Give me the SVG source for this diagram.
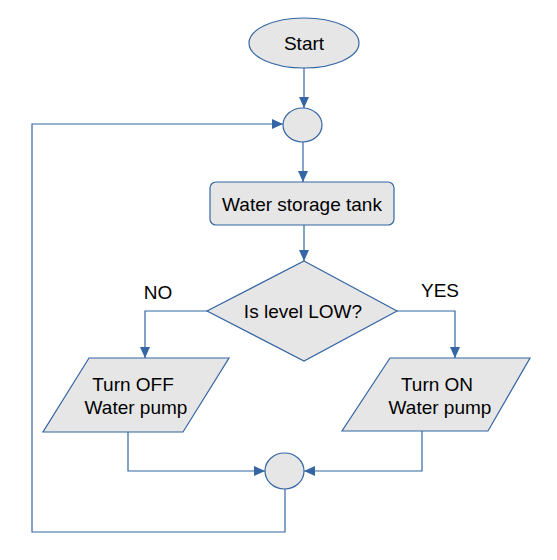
<svg xmlns="http://www.w3.org/2000/svg" width="557" height="560" viewBox="0 0 557 560">
<style>
.shape{fill:#e6e6e6;stroke:#3465a4;stroke-width:1.2}
.conn{fill:none;stroke:#3465a4;stroke-width:1.2}
text{font-family:"Liberation Sans",Arial,sans-serif;font-size:19px;fill:#000;text-anchor:middle}
</style>
<defs>
<marker id="arr" markerUnits="userSpaceOnUse" markerWidth="12" markerHeight="10" refX="11" refY="5" orient="auto">
<path d="M0,0 L11,5 L0,10 Z" fill="#3465a4"/>
</marker>
</defs>
<rect width="557" height="560" fill="#fff"/>
<g id="connectors">
<path class="conn" d="M304,68 L304,108" marker-end="url(#arr)"/>
<path class="conn" d="M303,142 L303,182" marker-end="url(#arr)"/>
<path class="conn" d="M304,225 L304,261" marker-end="url(#arr)"/>
<path class="conn" d="M207,311 L145,311 L145,358" marker-end="url(#arr)"/>
<path class="conn" d="M397,311 L455,311 L455,358" marker-end="url(#arr)"/>
<path class="conn" d="M128,432 L128,471 L265,471" marker-end="url(#arr)"/>
<path class="conn" d="M422,431 L422,471 L304,471" marker-end="url(#arr)"/>
<path class="conn" d="M285,489 L285,532 L32,532 L32,124 L283,124" marker-end="url(#arr)"/>
</g>
<g id="start">
<ellipse class="shape" cx="304" cy="43" rx="55" ry="25"/>
<text x="304" y="50">Start</text>
</g>
<g id="join1">
<ellipse class="shape" cx="302.5" cy="125" rx="19.5" ry="17"/>
</g>
<g id="tank">
<rect class="shape" x="210" y="182" width="184" height="43" rx="6"/>
<text x="302" y="211">Water storage tank</text>
</g>
<g id="decision">
<polygon class="shape" points="304,261 397,311 304,361 207,311"/>
<text x="303" y="318">Is level LOW?</text>
</g>
<g id="label-no"><text x="158" y="299">NO</text></g>
<g id="label-yes"><text x="440" y="297">YES</text></g>
<g id="pump-off">
<polygon class="shape" points="89,358 229,358 183,432 43,432"/>
<text x="133" y="391">Turn OFF</text>
<text x="136" y="414">Water pump</text>
</g>
<g id="pump-on">
<polygon class="shape" points="390,358 530,358 488,431 342,431"/>
<text x="437" y="391">Turn ON</text>
<text x="440" y="414">Water pump</text>
</g>
<g id="join2">
<ellipse class="shape" cx="284.5" cy="471" rx="19.5" ry="18"/>
</g>
</svg>
